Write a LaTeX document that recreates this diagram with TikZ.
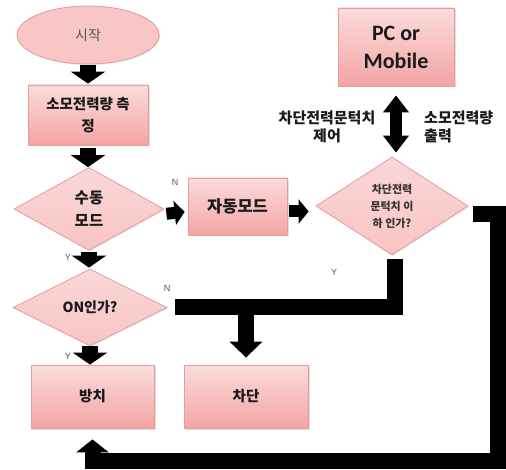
\documentclass[tikz,border=0pt]{standalone}
\usepackage{fontspec}
\setmainfont{Noto Sans CJK KR}
\newfontfamily\latfont{Carlito}
\newfontfamily\lblfont{Liberation Sans}
\usetikzlibrary{shapes.geometric,arrows.meta,shadows}
\definecolor{pinktop}{HTML}{FBDCDC}
\definecolor{pinkbot}{HTML}{F3A4A4}
\definecolor{pinkline}{HTML}{E59C9C}
\definecolor{pinkfill}{HTML}{F8C4C4}
\definecolor{txt}{HTML}{1A1A1A}
\definecolor{lbl}{HTML}{555555}
\tikzset{
  box/.style={rectangle, draw=pinkline, line width=0.8pt, top color=pinktop, bottom color=pinkbot,
    drop shadow={opacity=0.25, shadow xshift=1.5pt, shadow yshift=-1.5pt},
    inner sep=0pt, align=center, text=txt, font=\bfseries},
  dia/.style={diamond, draw=pinkline, line width=0.8pt, top color=pinktop!80!pinkfill, bottom color=pinkfill,
    drop shadow={opacity=0.2, shadow xshift=1pt, shadow yshift=-1pt},
    inner sep=0pt, align=center, text=txt},
  oval/.style={ellipse, draw=pinkline, line width=0.8pt, fill=pinkfill!90!pinktop,
    drop shadow={opacity=0.2, shadow xshift=1pt, shadow yshift=-1pt},
    inner sep=0pt, text=lbl},
  varrow/.style={line width=16pt, -{Triangle[length=12pt,width=34pt]}},
  harrow/.style={line width=12pt, -{Triangle[length=10pt,width=24pt]}},
  bar/.style={line width=16pt, line join=miter},
  yn/.style={font=\lblfont\fontsize{9}{9}\selectfont, text=lbl, inner sep=0pt},
  side/.style={font=\bfseries\fontsize{15}{18}\selectfont, text=txt, inner sep=0pt},
}
\begin{document}
\begin{tikzpicture}[x=1pt,y=-1pt]
\useasboundingbox (0,0) rectangle (506,470);
% nodes
\node[oval, minimum width=142pt, minimum height=58pt, font=\fontsize{14}{16}\selectfont] (start) at (88,35) {시작};
\node[box, minimum width=120pt, minimum height=60pt, font=\bfseries\fontsize{14.5}{22}\selectfont] (meas) at (88,115) {소모전력량 측\\정};
\node[dia, minimum width=150pt, minimum height=83pt, font=\bfseries\fontsize{15.5}{23}\selectfont] (manual) at (89,209) {수동\\모드};
\node[box, minimum width=99pt, minimum height=57pt, font=\bfseries\fontsize{16.5}{20}\selectfont] (auto) at (237.5,206.5) {자동모드};
\node[dia, minimum width=152pt, minimum height=98pt, text=black!80, font=\bfseries\fontsize{11}{17}\selectfont] (dec) at (392,206) {차단전력\\문턱치 이\\하 인가?};
\node[box, minimum width=116pt, minimum height=78pt, font=\latfont\bfseries\fontsize{22}{28}\selectfont] (pc) at (396,47) {PC or\\Mobile};
\node[dia, minimum width=154pt, minimum height=77pt, font=\bfseries\fontsize{14}{16}\selectfont] (on) at (90,307.5) {ON인가?};
\node[box, minimum width=123pt, minimum height=63pt, font=\bfseries\fontsize{14.5}{16}\selectfont] (keep) at (92.5,396.5) {방치};
\node[box, minimum width=124pt, minimum height=63pt, font=\bfseries\fontsize{14.5}{16}\selectfont] (cut) at (246,396.5) {차단};
% side labels
\node[side, align=center] (lblL) at (327,127) {차단전력문턱치\\제어};
\node[side, align=left, anchor=west] (lblR) at (424,127) {소모전력량\\출력};
% Y/N labels
\node[yn] (n1) at (175,182) {N};
\node[yn] (y1) at (68,257) {Y};
\node[yn] (n2) at (167,288) {N};
\node[yn] (y2) at (68,356) {Y};
\node[yn] (y3) at (334,272) {Y};
% arrows
\draw[varrow, shorten <=1pt, shorten >=1pt] (start.south) -- (start.south |- meas.north);
\draw[varrow, shorten <=3pt, shorten >=0pt] (meas.south) -- (meas.south |- manual.north);
\draw[varrow, shorten <=1pt, shorten >=1pt] (manual.south) -- (manual.south |- on.north);
\draw[varrow, shorten <=0pt, shorten >=0pt] (on.south) -- (on.south |- keep.north);
\draw[harrow, shorten <=2pt, shorten >=3pt] ([yshift=-5pt]manual.east) -- ([yshift=-5pt]auto.west);
\draw[harrow, shorten <=2pt, shorten >=7pt] ([yshift=-5pt]auto.east) -- ([yshift=-5pt]auto.east -| dec.west);
\draw[line width=12pt, {Triangle[length=17pt,width=25pt]}-{Triangle[length=17pt,width=25pt]}, shorten <=9pt, shorten >=4pt] (pc.south) -- (pc.south |- dec.north);
% thick connectors
\draw[bar] ([xshift=3pt,yshift=-4pt]dec.south) |- (cut.north |- on.east);
\draw[bar, -{Triangle[length=16pt,width=32pt]}] ([xshift=8pt]on.east) -| ([yshift=7pt]cut.north);
\coordinate (rc) at (497.5,460.5);
\draw[bar, -{Triangle[length=13pt,width=32pt]}] ([xshift=5pt,yshift=-8pt]dec.east) -| (rc) -| ([yshift=-11pt]keep.south);
\end{tikzpicture}
\end{document}
